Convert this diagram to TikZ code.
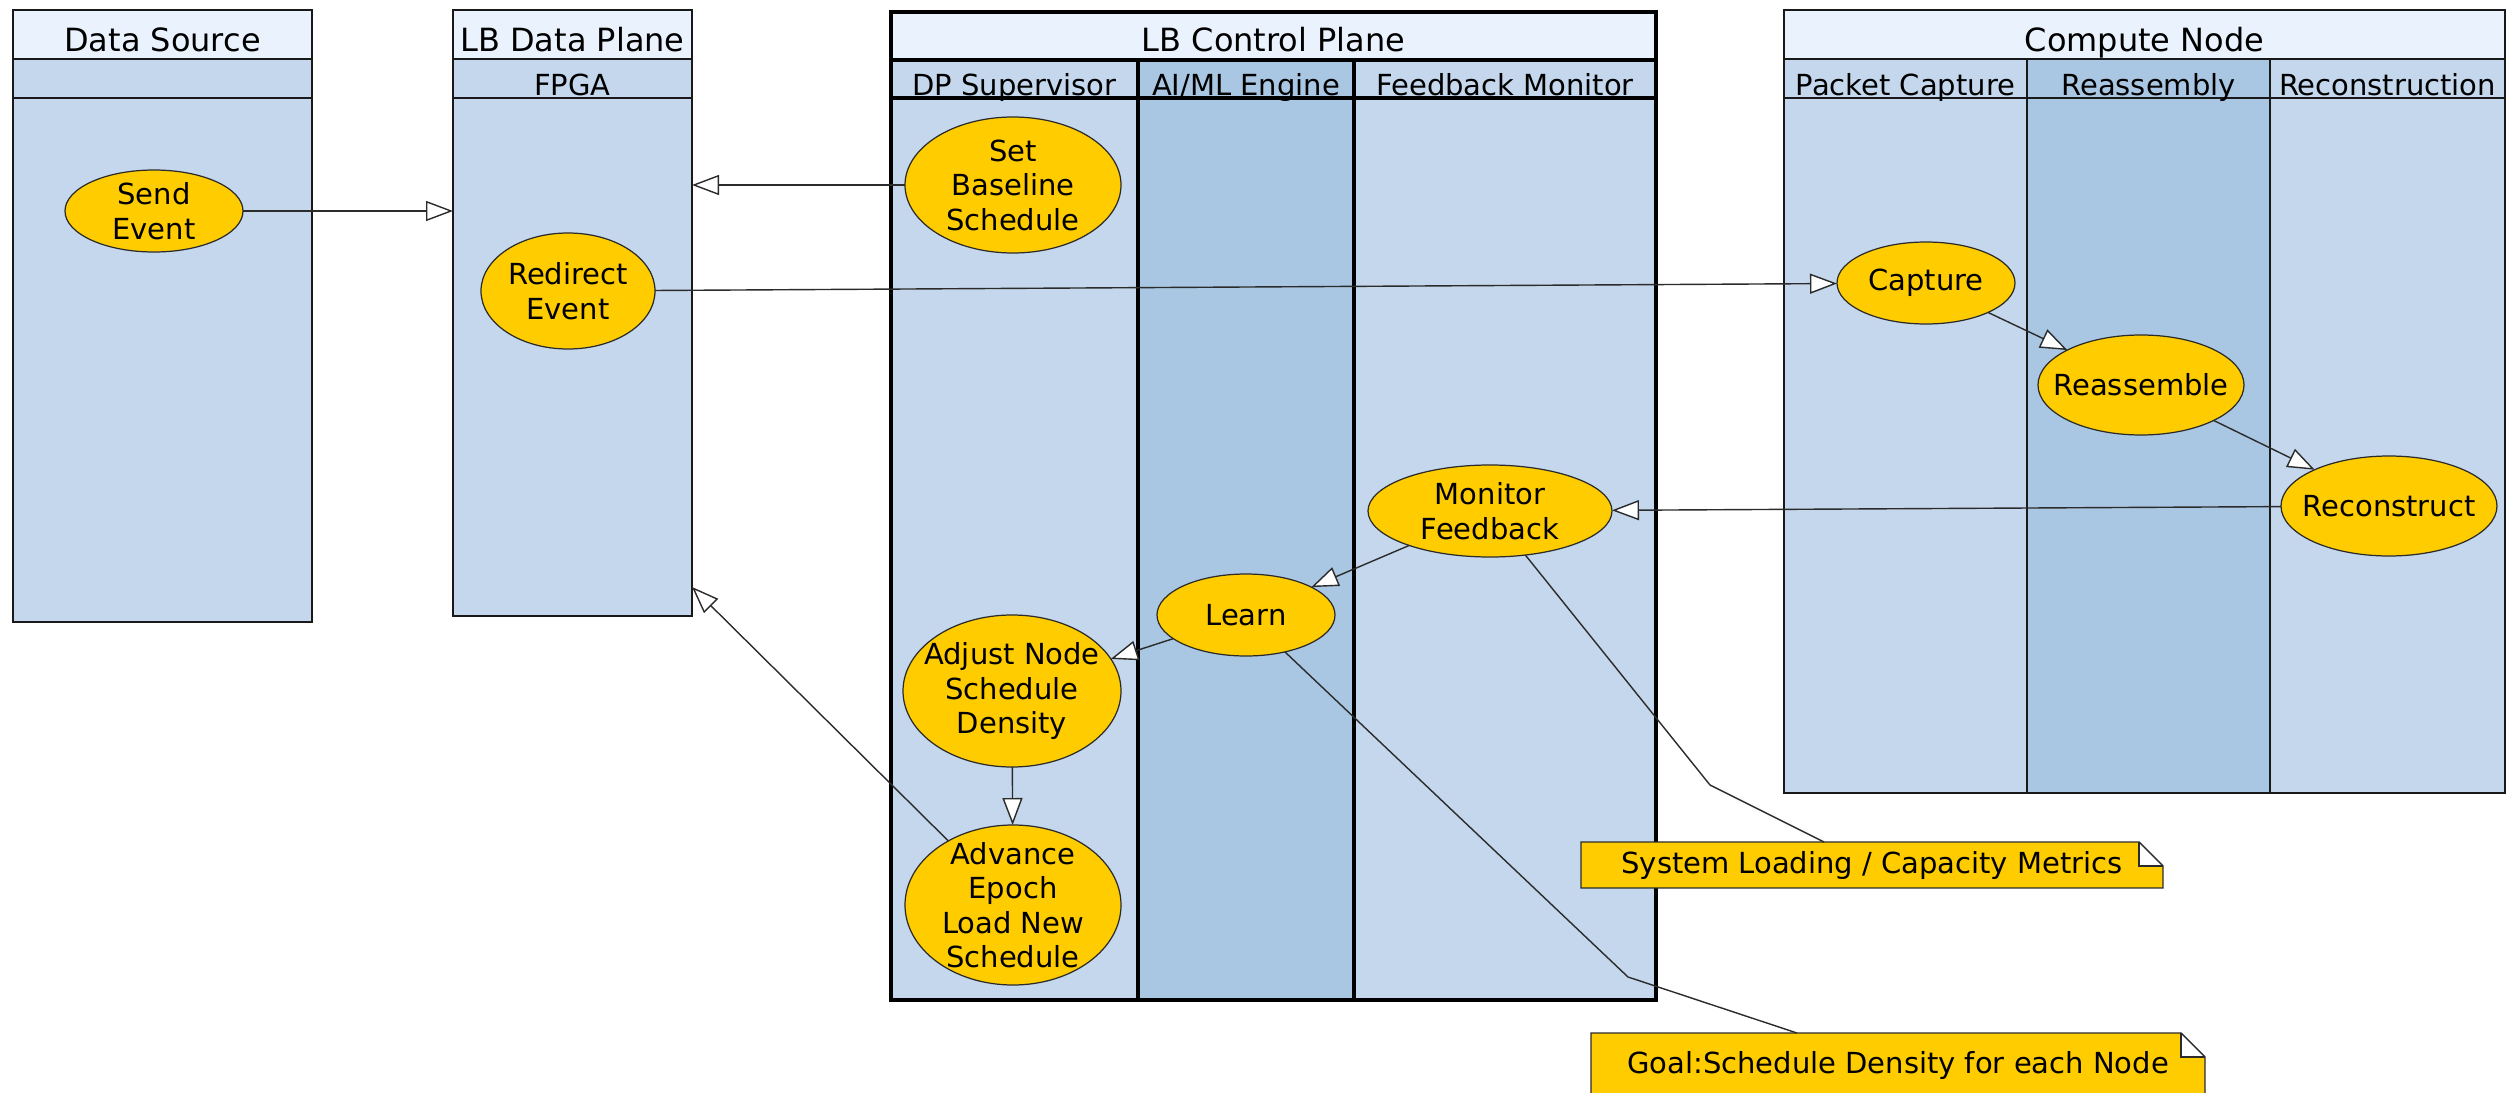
\documentclass[tikz,border=0pt]{standalone}
\usepackage{fontspec}
\setmainfont{DejaVu Sans}
\usetikzlibrary{shapes.geometric, arrows.meta}

\definecolor{headfill}{HTML}{EAF2FE}
\definecolor{lanelight}{HTML}{C4D7EC}
\definecolor{lanedark}{HTML}{A9C7E2}
\definecolor{actfill}{HTML}{FFCC00}
\definecolor{wire}{HTML}{2B2B2B}

\newcommand\poolfont{\fontsize{9.1}{10.8}\selectfont}
\newcommand\actfont{\fontsize{8.25}{9.8}\selectfont}
\def\foldsize{2.4mm}

\tikzset{
  poolrect/.style={rectangle, anchor=north west, inner sep=0pt, outer sep=0pt, draw=black!90},
  lanethin/.style={line width=0.45pt},
  lanebold/.style={line width=1.3pt, draw=black},
  pooltitle/.style={anchor=base, inner sep=0pt, font=\poolfont},
  lanetitle/.style={anchor=base, inner sep=0pt, font=\actfont},
  activity/.style={ellipse, draw=wire, line width=0.35pt, fill=actfill, inner sep=0pt, outer sep=0pt},
  acttext/.style={align=center, inner sep=0pt, font=\actfont},
  flow/.style={draw=wire, line width=0.4pt, -{Triangle[length=2.7mm, width=2mm, fill=white]}},
  noteline/.style={draw=wire, line width=0.4pt},
  memo/.style={rectangle, anchor=north west, inner sep=0pt, outer sep=0pt, fill=actfill, font=\actfont},
  memoline/.style={draw=wire, line width=0.4pt, line join=miter},
}

% rectangle given by its corners (x1,y1)-(x2,y2) in pixel units
\newcommand\poolbox[6]{%
  \node[poolrect, #6, minimum width={(#4-#2)*0.1mm}, minimum height={(#5-#3)*0.1mm}] (#1) at (#2,#3) {};}
% activity ellipse: name, centre, radii, text
\newcommand\activity[6]{%
  \node[activity, minimum width={#4*0.2mm}, minimum height={#5*0.2mm},
        label={[acttext]center:{#6}}] (#1) at (#2,#3) {};}
% note with a folded top-right corner
\newcommand\memo[6]{%
  \node[memo, minimum width={(#4-#2)*0.1mm}, minimum height={(#5-#3)*0.1mm}] (#1) at (#2,#3) {#6};
  \fill[white] ([xshift=-\foldsize]#1.north east) rectangle ([yshift=-\foldsize]#1.north east);
  \draw[memoline] (#1.north west) -- ([xshift=-\foldsize]#1.north east)
    -- ([yshift=-\foldsize]#1.north east) -- (#1.south east) -- (#1.south west) -- cycle;
  \draw[memoline] ([xshift=-\foldsize]#1.north east)
    -- ([xshift=-\foldsize, yshift=-\foldsize]#1.north east) -- ([yshift=-\foldsize]#1.north east);}

\begin{document}
\begin{tikzpicture}[x=0.1mm, y=-0.1mm]
\useasboundingbox (0,0) rectangle (2508,1093);
\clip (0,0) rectangle (2508,1093);

% ---- Data Source pool
\poolbox{srchead}{13}{10}{312}{59}{fill=headfill, lanethin}
\poolbox{srcsub}{13}{59}{312}{98}{fill=lanelight, lanethin}
\poolbox{srcbody}{13}{98}{312}{622}{fill=lanelight, lanethin}
\node[pooltitle] (srctitle) at (162.5,51) {Data Source};

% ---- LB Data Plane pool
\poolbox{lbhead}{453}{10}{692}{59}{fill=headfill, lanethin}
\poolbox{fpgasub}{453}{59}{692}{98}{fill=lanelight, lanethin}
\poolbox{fpga}{453}{98}{692}{616}{fill=lanelight, lanethin}
\node[pooltitle] (lbtitle) at (572.5,51) {LB Data Plane};
\node[lanetitle] (fpgatitle) at (572.5,95) {FPGA};

% ---- LB Control Plane pool
\poolbox{ctlhead}{891}{12}{1656}{60}{fill=headfill, lanebold}
\poolbox{dpsub}{891}{60}{1138}{98}{fill=lanelight, lanebold}
\poolbox{aisub}{1138}{60}{1354}{98}{fill=lanedark, lanebold}
\poolbox{fbsub}{1354}{60}{1656}{98}{fill=lanelight, lanebold}
\poolbox{dpbody}{891}{98}{1138}{1000}{fill=lanelight, lanebold}
\poolbox{aibody}{1138}{98}{1354}{1000}{fill=lanedark, lanebold}
\poolbox{fbbody}{1354}{98}{1656}{1000}{fill=lanelight, lanebold}
\node[pooltitle] (ctltitle) at (1273.5,51) {LB Control Plane};
\node[lanetitle] (dptitle) at (1014.5,95) {DP Supervisor};
\node[lanetitle] (aititle) at (1246,95) {AI/ML Engine};
\node[lanetitle] (fbtitle) at (1505,95) {Feedback Monitor};

% ---- Compute Node pool
\poolbox{cnhead}{1784}{10}{2505}{59}{fill=headfill, lanethin}
\poolbox{pcsub}{1784}{59}{2027}{98}{fill=lanelight, lanethin}
\poolbox{rasub}{2027}{59}{2270}{98}{fill=lanedark, lanethin}
\poolbox{rcsub}{2270}{59}{2505}{98}{fill=lanelight, lanethin}
\poolbox{pcbody}{1784}{98}{2027}{793}{fill=lanelight, lanethin}
\poolbox{rabody}{2027}{98}{2270}{793}{fill=lanedark, lanethin}
\poolbox{rcbody}{2270}{98}{2505}{793}{fill=lanelight, lanethin}
\node[pooltitle] (cntitle) at (2144.5,51) {Compute Node};
\node[lanetitle] (pctitle) at (1905.5,95) {Packet Capture};
\node[lanetitle] (ratitle) at (2148.5,95) {Reassembly};
\node[lanetitle] (rctitle) at (2387.5,95) {Reconstruction};

% ---- activities
\activity{send}{154}{211}{89}{41}{Send\\Event}
\activity{redirect}{568}{291}{87}{58}{Redirect\\Event}
\activity{setbase}{1013}{185}{108}{68}{Set\\Baseline\\Schedule}
\activity{monitor}{1490}{511}{122}{46}{Monitor\\Feedback}
\activity{learn}{1246}{615}{89}{41}{Learn}
\activity{adjust}{1012}{691}{109}{76}{Adjust Node\\Schedule\\Density}
\activity{advance}{1013}{905}{108}{80}{Advance\\Epoch\\Load New\\Schedule}
\activity{capture}{1926}{283}{89}{41}{Capture}
\activity{reassemble}{2141}{385}{103}{50}{Reassemble}
\activity{reconstruct}{2389}{506}{108}{50}{Reconstruct}

% ---- control flow
\draw[flow] (send) -- (send -| fpga.west);
\draw[flow] (setbase) -- (setbase -| fpga.east);
\draw[flow] (redirect) -- (capture);
\draw[flow] (capture) -- (reassemble);
\draw[flow] (reassemble) -- (reconstruct);
\draw[flow] (reconstruct) -- (monitor);
\draw[flow] (monitor) -- (learn);
\draw[flow] (learn) -- (adjust);
\draw[flow] (adjust) -- (advance);
\draw[flow] (advance) -- ([yshift=-23mm]fpga.east);

% ---- notes
\memo{sysnote}{1581}{842}{2163}{888}{System Loading / Capacity Metrics}
\memo{goalnote}{1591}{1033}{2205}{1097}{Goal:Schedule Density for each Node}

\coordinate (k1) at (1710,785);
\coordinate (k2) at (1628,977);
\draw[noteline] (monitor) -- (k1) -- ([xshift=24.3mm]sysnote.north west);
\draw[noteline] (learn) -- (k2) -- ([xshift=20.6mm]goalnote.north west);
\end{tikzpicture}
\end{document}
